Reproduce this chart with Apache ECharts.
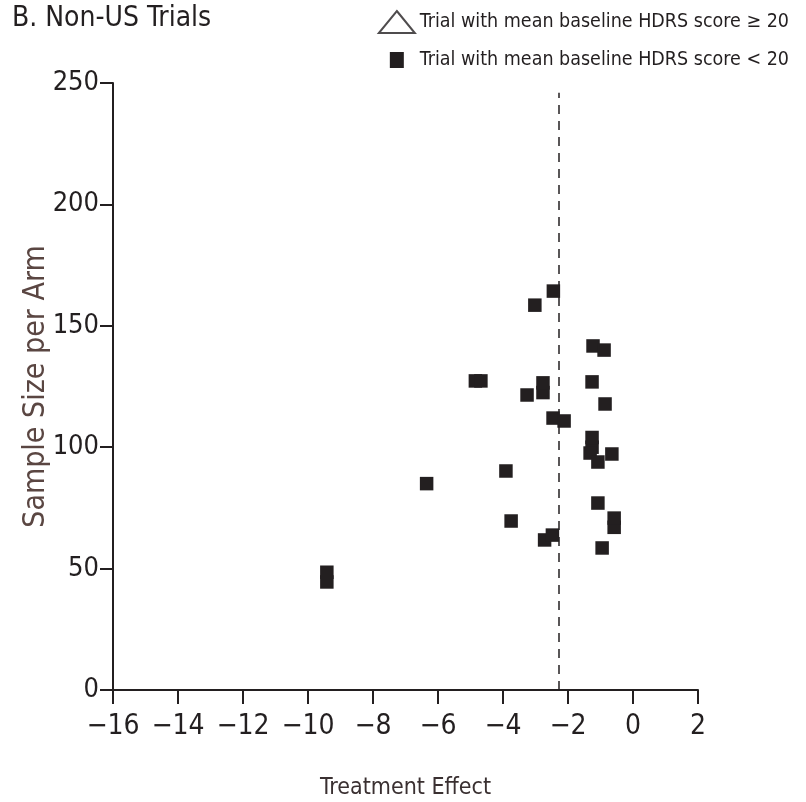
<!DOCTYPE html>
<html>
<head>
<meta charset="utf-8">
<script src="https://cdn.jsdelivr.net/npm/echarts@6/dist/echarts.min.js"></script>
<style>
    html, body { margin: 0; padding: 0; background: #fff; }
    #chart { width: 806px; height: 802px; }
</style>
</head>
<body>
<div id="chart"></div>
<script>
/*Non-US trials: treatment effect vs sample size*/

var FONT = '"DejaVu Sans Condensed", "Liberation Sans Narrow", "Noto Sans", sans-serif';
var INK = '#231f20';

// trials with mean baseline HDRS score >= 20 (none in this panel)
var effectHigh = [];
var sizeHigh = [];

// trials with mean baseline HDRS score < 20
var effectLow = [-9.42, -9.42, -6.35, -4.85, -4.68, -3.91, -3.75, -2.72, -2.48,
    -2.45, -3.02, -2.77, -2.77, -3.26, -2.46, -2.12, -1.23, -0.89, -1.26, -0.86,
    -1.26, -1.26, -1.32, -1.08, -0.65, -1.08, -0.58, -0.58, -0.95];
var sizeLow = [44.5, 48.5, 85, 127.3, 127.3, 90.2, 69.6, 61.8, 63.8,
    164.3, 158.5, 122.5, 126.5, 121.5, 112, 110.8, 141.7, 140, 126.9, 117.8,
    100, 104, 97.6, 93.9, 97.2, 77, 67, 70.8, 58.5];

var meanEffect = -2.3;
var xTicks = [-16, 2, 2];     // min, max, interval
var yTicks = [0, 250, 50];

function pairs(xs, ys) {
    var out = [];
    for (var i = 0; i < xs.length; i++) {
        out.push([xs[i], ys[i]]);
    }
    return out;
}

function fmtMinus(v) {
    return v < 0 ? '\u2212' + Math.abs(v) : String(v);
}

var chart = echarts.init(document.getElementById('chart'));

var option = {
    animation: false,
    textStyle: { fontFamily: FONT },
    title: {
        text: 'B. Non-US Trials',
        left: 7,
        top: 0,
        textStyle: { fontFamily: FONT, fontSize: 28, fontWeight: 'normal', color: INK }
    },
    legend: [
        {
            data: ['Trial with mean baseline HDRS score \u2265 20'],
            right: 12,
            top: 5,
            itemWidth: 36,
            itemHeight: 22,
            textStyle: { fontFamily: FONT, fontSize: 19.5, color: INK }
        },
        {
            data: ['Trial with mean baseline HDRS score < 20'],
            right: 12,
            top: 45,
            itemWidth: 14,
            itemHeight: 16,
            textStyle: { fontFamily: FONT, fontSize: 19.5, color: INK, padding: [0, 0, 0, 11] }
        }
    ],
    grid: {
        left: 113,
        right: 108,
        top: 83,
        bottom: 112,
        outerBoundsMode: 'none'
    },
    xAxis: {
        type: 'value',
        min: xTicks[0],
        max: xTicks[1],
        interval: xTicks[2],
        name: 'Treatment Effect',
        nameLocation: 'middle',
        nameGap: 87,
        nameMoveOverlap: false,
        nameTextStyle: { fontFamily: FONT, fontSize: 23, color: '#3a3031' },
        axisLine: { onZero: false, lineStyle: { color: INK, width: 2 } },
        axisTick: { show: true, length: 14, lineStyle: { color: INK, width: 2 } },
        axisLabel: {
            fontFamily: FONT,
            fontSize: 28,
            color: INK,
            margin: 23,
            formatter: fmtMinus
        },
        splitLine: { show: false }
    },
    yAxis: {
        type: 'value',
        min: yTicks[0],
        max: yTicks[1],
        interval: yTicks[2],
        name: 'Sample Size per Arm',
        nameLocation: 'middle',
        nameGap: 62,
        nameMoveOverlap: false,
        nameTextStyle: { fontFamily: FONT, fontSize: 30, color: '#5a4642' },
        axisLine: { onZero: false, lineStyle: { color: INK, width: 2 } },
        axisTick: { show: true, length: 13, lineStyle: { color: INK, width: 2 } },
        axisLabel: {
            fontFamily: FONT,
            fontSize: 27,
            color: INK,
            margin: 14
        },
        splitLine: { show: false }
    },
    series: [
        {
            name: 'Trial with mean baseline HDRS score \u2265 20',
            type: 'scatter',
            symbol: 'triangle',
            symbolSize: 14,
            itemStyle: { color: '#fff', borderColor: INK, borderWidth: 1.5 },
            data: pairs(effectHigh, sizeHigh)
        },
        {
            name: 'Trial with mean baseline HDRS score < 20',
            type: 'scatter',
            symbol: 'rect',
            symbolSize: 13.5,
            itemStyle: { color: INK, opacity: 1 },
            data: pairs(effectLow, sizeLow),
            markLine: {
                silent: true,
                symbol: 'none',
                label: { show: false },
                lineStyle: { color: INK, type: [9, 7], width: 1.5 },
                data: [
                    [{ coord: [meanEffect, 0] }, { coord: [meanEffect, 246] }]
                ]
            }
        }
    ]
};

chart.setOption(option);
</script>
</body>
</html>
